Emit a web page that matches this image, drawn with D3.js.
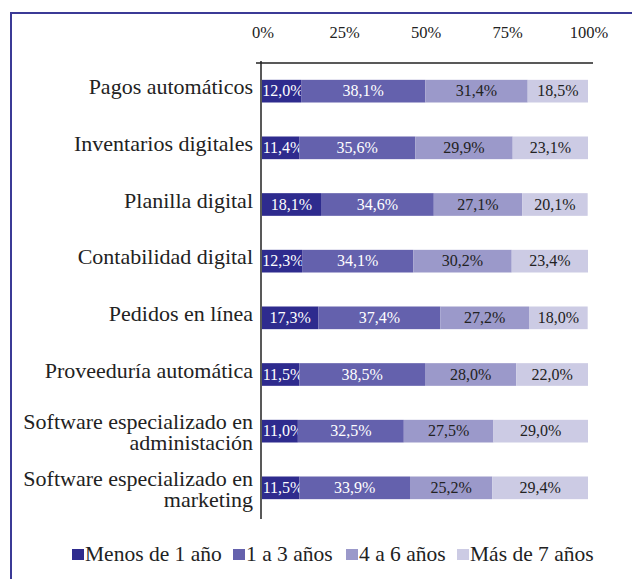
<!DOCTYPE html>
<html>
<head>
<meta charset="utf-8">
<script src="https://cdn.jsdelivr.net/npm/d3@7"></script>
<style>
  body { margin: 0; background: #fff; }
  svg text { font-family: "Liberation Serif", "Times New Roman", serif; fill: #222; }
</style>
</head>
<body>
<svg id="chart" width="632" height="579"></svg>
<script>
var categories = [
  ["Pagos automáticos"],
  ["Inventarios digitales"],
  ["Planilla digital"],
  ["Contabilidad digital"],
  ["Pedidos en línea"],
  ["Proveeduría automática"],
  ["Software especializado en", "administación"],
  ["Software especializado en", "marketing"]
];
var seriesNames = ["Menos de 1 año", "1 a 3 años", "4 a 6 años", "Más de 7 años"];
var menos1 = [12.0, 11.4, 18.1, 12.3, 17.3, 11.5, 11.0, 11.5];
var de1a3 = [38.1, 35.6, 34.6, 34.1, 37.4, 38.5, 32.5, 33.9];
var de4a6 = [31.4, 29.9, 27.1, 30.2, 27.2, 28.0, 27.5, 25.2];
var mas7 = [18.5, 23.1, 20.1, 23.4, 18.0, 22.0, 29.0, 29.4];
var tickValues = [0, 25, 50, 75, 100];

var colors = ["#2e2b8e", "#6461ad", "#9b99ca", "#cccbe4"];
var labelColors = ["#fff", "#fff", "#222", "#222"];

var svg = d3.select("#chart");

// frame lines (top and left)
svg.append("line").attr("x1", 11).attr("x2", 632).attr("y1", 13).attr("y2", 13)
  .attr("stroke", "#3b3a96").attr("stroke-width", 2);
svg.append("line").attr("x1", 11).attr("x2", 11).attr("y1", 12).attr("y2", 579)
  .attr("stroke", "#3b3a96").attr("stroke-width", 2);

var x = d3.scaleLinear().domain([0, 100]).range([262, 588]);
var y = d3.scaleBand().domain(d3.range(categories.length)).range([60, 519]).paddingInner(0.6).paddingOuter(0.35);

var rows = categories.map(function(c, i) {
  return [menos1[i], de1a3[i], de4a6[i], mas7[i]];
});

// axis labels on top
svg.append("g").selectAll("text").data(tickValues).enter().append("text")
  .attr("x", function(d) { return x(d) + 1; })
  .attr("y", 38)
  .attr("text-anchor", "middle")
  .style("font-size", "16.5px")
  .text(function(d) { return d + "%"; });

// bars
rows.forEach(function(vals, i) {
  var start = 0;
  var g = svg.append("g");
  vals.forEach(function(v, k) {
    var x0 = x(start), x1 = x(start + v);
    g.append("rect")
      .attr("x", x0).attr("y", y(i))
      .attr("width", x1 - x0).attr("height", y.bandwidth())
      .attr("fill", colors[k]);
    g.append("text")
      .attr("x", Math.max((x0 + x1) / 2, x0 + 21))
      .attr("y", y(i) + y.bandwidth() / 2 + 5)
      .attr("text-anchor", "middle")
      .style("font-size", "16px")
      .style("fill", labelColors[k])
      .text(v.toFixed(1).replace(".", ",") + "%");
    start += v;
  });
});

// axis lines
svg.append("line").attr("x1", 256).attr("x2", 593).attr("y1", 63).attr("y2", 63)
  .attr("stroke", "#222").attr("stroke-width", 1.5);
svg.append("line").attr("x1", 261).attr("x2", 261).attr("y1", 61).attr("y2", 519)
  .attr("stroke", "#222").attr("stroke-width", 1.5);

// category labels
categories.forEach(function(lines, i) {
  var cy = y(i) + y.bandwidth() / 2;
  var y0 = lines.length === 1 ? cy + 3 : cy - 2;
  lines.forEach(function(l, j) {
    svg.append("text")
      .attr("text-anchor", "end")
      .attr("x", 253).attr("y", y0 + j * 21)
      .style("font-size", "22px")
      .text(l);
  });
});

// legend
var legendX = [72, 233, 346, 457];
var legend = svg.append("g");
seriesNames.forEach(function(name, k) {
  legend.append("rect").attr("x", legendX[k]).attr("y", 549).attr("width", 12).attr("height", 11)
    .attr("fill", colors[k]);
  legend.append("text").attr("x", legendX[k] + 13).attr("y", 561)
    .style("font-size", "21.5px").text(name);
});
</script>
</body>
</html>
